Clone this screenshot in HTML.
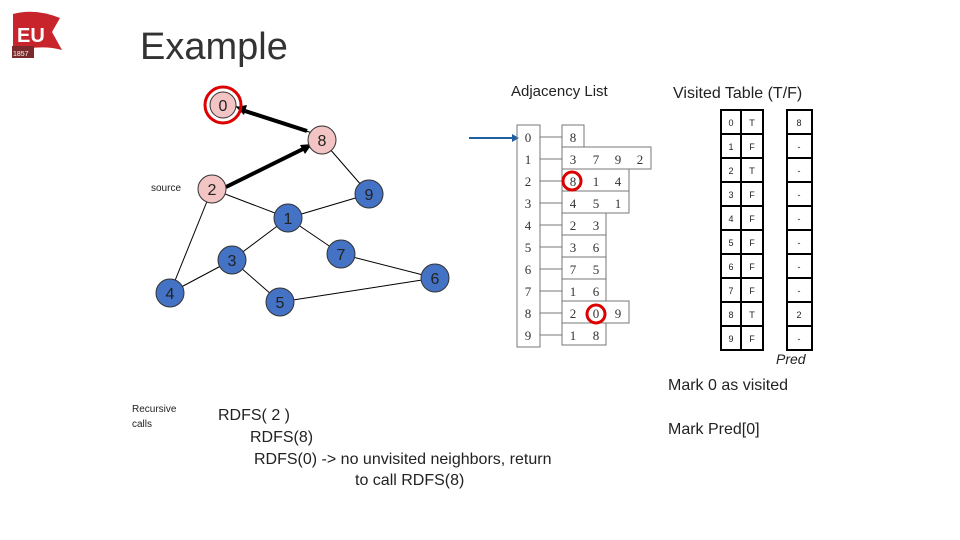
<!DOCTYPE html>
<html><head><style>
body{margin:0;width:960px;height:540px;background:#fff;position:relative;overflow:hidden;font-family:"Liberation Sans",sans-serif}
.t{position:absolute;white-space:nowrap;color:#222}
</style></head><body>
<svg width="960" height="540" style="position:absolute;left:0;top:0" font-family="Liberation Sans, sans-serif">
<path d="M13 14 Q35 8 60 18 L52 32 L62 50 Q40 44 13 52 Z" fill="#c8242b"/>
<rect x="12" y="46" width="22" height="12" fill="#7a2a2a"/>
<text x="17" y="42" font-size="20" font-weight="bold" fill="#fff">EU</text>
<text x="13" y="56" font-size="7" fill="#fff">1857</text>
<g stroke="#000" stroke-width="1">
<line x1="322" y1="140" x2="369" y2="194"/>
<line x1="212" y1="189" x2="288" y2="218"/>
<line x1="288" y1="218" x2="369" y2="194"/>
<line x1="212" y1="189" x2="170" y2="293"/>
<line x1="288" y1="218" x2="232" y2="260"/>
<line x1="288" y1="218" x2="341" y2="254"/>
<line x1="232" y1="260" x2="170" y2="293"/>
<line x1="232" y1="260" x2="280" y2="302"/>
<line x1="341" y1="254" x2="435" y2="278"/>
<line x1="280" y1="302" x2="435" y2="278"/>
<line x1="222" y1="190" x2="312" y2="146"/>
<line x1="235" y1="106" x2="312" y2="133"/>
</g>
<g stroke="#000" stroke-width="4">
<line x1="226" y1="187" x2="305" y2="148"/>
<line x1="245" y1="111" x2="307" y2="131"/>
</g>
<polygon points="312,144 300,145 305,154" fill="#000"/>
<polygon points="236,107 247,105 244,115" fill="#000"/>
<g stroke="#333" stroke-width="1" font-size="16" text-anchor="middle">
<circle cx="223" cy="105" r="13" fill="#f2c4c4"/>
<circle cx="322" cy="140" r="14" fill="#f2c4c4"/>
<circle cx="212" cy="189" r="14" fill="#f2c4c4"/>
<g fill="#4472c4"><circle cx="369" cy="194" r="14"/><circle cx="288" cy="218" r="14"/><circle cx="341" cy="254" r="14"/><circle cx="232" cy="260" r="14"/><circle cx="435" cy="278" r="14"/><circle cx="170" cy="293" r="14"/><circle cx="280" cy="302" r="14"/></g>
</g>
<circle cx="223" cy="105" r="18" fill="none" stroke="#d00" stroke-width="3"/>
<g font-size="16" text-anchor="middle" fill="#222">
<text x="223" y="111">0</text><text x="322" y="146">8</text><text x="212" y="195">2</text>
<text x="369" y="200">9</text><text x="288" y="224">1</text><text x="341" y="260">7</text>
<text x="232" y="266">3</text><text x="435" y="284">6</text><text x="170" y="299">4</text><text x="280" y="308">5</text>
</g>
<text x="151" y="191" font-size="10" fill="#222">source</text>
<line x1="469" y1="138" x2="514" y2="138" stroke="#1f5fa0" stroke-width="2"/>
<polygon points="519,138 512,134 512,142" fill="#1f5fa0"/>
<g stroke="#777" stroke-width="1" fill="none">
<rect x="517" y="125" width="23" height="222"/>
<rect x="562" y="125" width="22" height="22"/>
<rect x="562" y="147" width="89" height="22"/>
<rect x="562" y="169" width="67" height="22"/>
<rect x="562" y="191" width="67" height="22"/>
<rect x="562" y="213" width="44" height="22"/>
<rect x="562" y="235" width="44" height="22"/>
<rect x="562" y="257" width="44" height="22"/>
<rect x="562" y="279" width="44" height="22"/>
<rect x="562" y="301" width="67" height="22"/>
<rect x="562" y="323" width="44" height="22"/>
<path d="M540 137H562M540 159H562M540 181H562M540 203H562M540 225H562M540 247H562M540 269H562M540 291H562M540 313H562M540 335H562"/>
</g>
<g font-family="Liberation Serif, serif" font-size="13" fill="#333" text-anchor="middle">
<text x="528" y="142">0</text><text x="528" y="164">1</text><text x="528" y="186">2</text><text x="528" y="208">3</text><text x="528" y="230">4</text><text x="528" y="252">5</text><text x="528" y="274">6</text><text x="528" y="296">7</text><text x="528" y="318">8</text><text x="528" y="340">9</text>
<text x="573" y="142">8</text>
<text x="573" y="164">3</text><text x="596" y="164">7</text><text x="618" y="164">9</text><text x="640" y="164">2</text>
<text x="573" y="186">8</text><text x="596" y="186">1</text><text x="618" y="186">4</text>
<text x="573" y="208">4</text><text x="596" y="208">5</text><text x="618" y="208">1</text>
<text x="573" y="230">2</text><text x="596" y="230">3</text>
<text x="573" y="252">3</text><text x="596" y="252">6</text>
<text x="573" y="274">7</text><text x="596" y="274">5</text>
<text x="573" y="296">1</text><text x="596" y="296">6</text>
<text x="573" y="318">2</text><text x="596" y="318">0</text><text x="618" y="318">9</text>
<text x="573" y="340">1</text><text x="596" y="340">8</text>
</g>
<circle cx="572" cy="181" r="9" fill="none" stroke="#d00" stroke-width="3"/>
<circle cx="596" cy="314" r="9" fill="none" stroke="#d00" stroke-width="3"/>
<g stroke="#000" stroke-width="2" fill="none">
<rect x="721" y="110" width="42" height="240"/>
<line x1="741" y1="110" x2="741" y2="350"/>
<rect x="787" y="110" width="25" height="240"/>
<path d="M721 134H763M721 158H763M721 182H763M721 206H763M721 230H763M721 254H763M721 278H763M721 302H763M721 326H763"/>
<path d="M787 134H812M787 158H812M787 182H812M787 206H812M787 230H812M787 254H812M787 278H812M787 302H812M787 326H812"/>
</g>
<g font-size="9" fill="#222" text-anchor="middle">
<text x="731" y="126">0</text><text x="752" y="126">T</text><text x="799" y="126">8</text>
<text x="731" y="150">1</text><text x="752" y="150">F</text><text x="799" y="150">-</text>
<text x="731" y="174">2</text><text x="752" y="174">T</text><text x="799" y="174">-</text>
<text x="731" y="198">3</text><text x="752" y="198">F</text><text x="799" y="198">-</text>
<text x="731" y="222">4</text><text x="752" y="222">F</text><text x="799" y="222">-</text>
<text x="731" y="246">5</text><text x="752" y="246">F</text><text x="799" y="246">-</text>
<text x="731" y="270">6</text><text x="752" y="270">F</text><text x="799" y="270">-</text>
<text x="731" y="294">7</text><text x="752" y="294">F</text><text x="799" y="294">-</text>
<text x="731" y="318">8</text><text x="752" y="318">T</text><text x="799" y="318">2</text>
<text x="731" y="342">9</text><text x="752" y="342">F</text><text x="799" y="342">-</text>
</g>
<text x="776" y="364" font-size="14" font-style="italic" fill="#222">Pred</text>
</svg>
<div class="t" style="left:140px;top:26px;font-size:38px;color:#333">Example</div>
<div class="t" style="left:511px;top:83px;font-size:15px">Adjacency List</div>
<div class="t" style="left:673px;top:85px;font-size:16px">Visited Table (T/F)</div>
<div class="t" style="left:668px;top:377px;font-size:16px">Mark 0 as visited</div>
<div class="t" style="left:668px;top:421px;font-size:16px">Mark Pred[0]</div>
<div class="t" style="left:132px;top:402px;font-size:10px;line-height:15px">Recursive<br>calls</div>
<div class="t" style="left:218px;top:407px;font-size:16px">RDFS( 2 )</div>
<div class="t" style="left:250px;top:429px;font-size:16px">RDFS(8)</div>
<div class="t" style="left:254px;top:451px;font-size:16px">RDFS(0) -&gt; no unvisited neighbors, return</div>
<div class="t" style="left:355px;top:472px;font-size:16px">to call RDFS(8)</div>
</body></html>
